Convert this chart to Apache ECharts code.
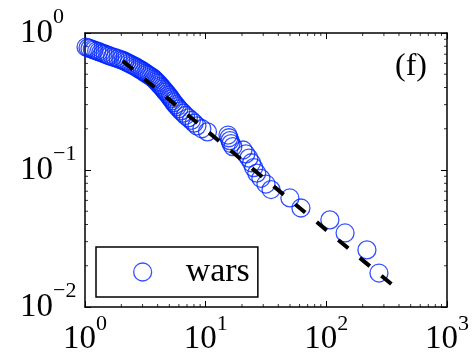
<!DOCTYPE html>
<html>
<head>
<meta charset="utf-8">
<script src="https://cdn.jsdelivr.net/npm/echarts@6/dist/echarts.min.js"></script>
<style>
html, body { margin: 0; padding: 0; background: #fff; }
#chart { width: 476px; height: 362px; }
</style>
</head>
<body>
<div id="chart"></div>
<script>
// wars: size vs. fraction
const warsX = [1.02, 1.06, 1.10, 1.15, 1.19, 1.25, 1.30, 1.35, 1.41, 1.47, 1.54, 1.60, 1.69, 1.78, 1.88, 1.98,
  2.07, 2.14, 2.22, 2.31, 2.40, 2.49, 2.59, 2.68, 2.78, 2.88, 2.98, 3.08, 3.18, 3.28, 3.40, 3.52, 3.65,
  3.75, 3.84, 3.94, 4.04, 4.14, 4.24, 4.35, 4.45, 4.56, 4.68, 4.81, 4.93, 5.06, 5.18, 5.31, 5.43, 5.61,
  5.80, 6.00, 6.24, 6.52, 6.80, 7.19, 7.61, 8.03, 8.47, 9.30, 10.35,
  15.3, 15.6, 15.9, 16.2, 16.8,
  20.4, 21.5, 22.8, 24.0, 25.0, 26.5, 28.7, 31.6, 34.8,
  49.9, 61.6, 107, 143, 217, 273]
const warsY = [0.790, 0.780, 0.770, 0.760, 0.750, 0.740, 0.730, 0.720, 0.710, 0.700, 0.690, 0.680, 0.670, 0.660, 0.650, 0.640,
  0.630, 0.620, 0.610, 0.600, 0.590, 0.580, 0.570, 0.560, 0.550, 0.540, 0.530, 0.520, 0.510, 0.500, 0.490, 0.480, 0.470,
  0.460, 0.450, 0.440, 0.430, 0.420, 0.410, 0.400, 0.390, 0.380, 0.370, 0.360, 0.350, 0.340, 0.330, 0.320, 0.310, 0.300,
  0.290, 0.280, 0.270, 0.260, 0.250, 0.240, 0.230, 0.220, 0.210, 0.200, 0.190,
  0.180, 0.172, 0.164, 0.156, 0.148,
  0.140, 0.131, 0.122, 0.113, 0.104, 0.095, 0.087, 0.079, 0.072,
  0.0625, 0.0528, 0.0432, 0.0347, 0.0261, 0.0177]

// dashed power-law fit, two end points
const fitX = [2.06, 370]
const fitY = [0.624, 0.014]

// minor tick positions (MATLAB style box ticks)
const minorX = [2, 3, 4, 5, 6, 7, 8, 9, 20, 30, 40, 50, 60, 70, 80, 90, 200, 300, 400, 500, 600, 700, 800, 900]
const minorY = [0.02, 0.03, 0.04, 0.05, 0.06, 0.07, 0.08, 0.09, 0.2, 0.3, 0.4, 0.5, 0.6, 0.7, 0.8, 0.9]

const seriesName = 'wars'
const panelLabel = '(f)'

const serif = "'Liberation Serif', 'Times New Roman', serif"
const blue = '#0026ff'

function powLabel(value) {
  const e = Math.round(Math.log10(value))
  return '{b|10}{s|' + (e < 0 ? '\u2212' + (-e) : e) + '}'
}

const labelRich = {
  b: { fontSize: 33, fontFamily: serif, color: '#000', lineHeight: 33 },
  s: { fontSize: 22, fontFamily: serif, color: '#000', lineHeight: 22, padding: [0, 0, 31, 0] },
}

function logAxis(min, max, extra) {
  return Object.assign({
    type: 'log',
    logBase: 10,
    min: min,
    max: max,
    splitLine: { show: false },
    axisLine: { show: true, onZero: false, lineStyle: { color: '#000', width: 1.5 } },
    axisTick: { show: true, inside: true, length: 6, lineStyle: { color: '#000', width: 1 } },
  }, extra)
}

function tickSeries(data, size, offset) {
  return {
    type: 'scatter',
    data: data,
    symbol: 'rect',
    symbolSize: size,
    symbolOffset: offset,
    clip: false,
    silent: true,
    itemStyle: { color: '#000' },
    z: 1,
  }
}

const chart = echarts.init(document.getElementById('chart'))

chart.setOption({
  animation: false,
  backgroundColor: '#fff',
  grid: { left: 85, right: 29, top: 33, bottom: 55, containLabel: false, outerBoundsMode: 'none' },
  xAxis: [
    logAxis(1, 1000, {
      position: 'bottom',
      axisLabel: { formatter: powLabel, rich: labelRich, margin: 16 },
    }),
    logAxis(1, 1000, { position: 'top', axisLabel: { show: false } }),
  ],
  yAxis: [
    logAxis(0.01, 1, {
      position: 'left',
      axisLabel: { formatter: powLabel, rich: labelRich, margin: 65, align: 'left' },
    }),
    logAxis(0.01, 1, { position: 'right', axisLabel: { show: false } }),
  ],
  legend: {
    data: [seriesName],
    left: 96,
    top: 247,
    orient: 'horizontal',
    icon: 'circle',
    padding: [8, 8, 8, 37],
    itemWidth: 76,
    itemHeight: 18,
    backgroundColor: '#fff',
    borderColor: '#000',
    borderWidth: 1.5,
    borderRadius: 0,
    textStyle: { fontFamily: serif, fontSize: 34, color: '#000', lineHeight: 34 },
    itemStyle: { color: 'rgba(0,0,0,0)', borderColor: blue, borderWidth: 1.3 },
  },
  graphic: [
    {
      type: 'text',
      left: 395,
      top: 51,
      style: { text: panelLabel, font: '32px ' + serif, fill: '#000' },
    },
  ],
  series: [
    {
      name: seriesName,
      type: 'scatter',
      data: warsX.map((x, i) => [x, warsY[i]]),
      symbol: 'circle',
      symbolSize: 18,
      itemStyle: { color: 'rgba(0,0,0,0)', borderColor: blue, borderWidth: 1.3 },
      z: 3,
    },
    {
      name: 'fit',
      type: 'line',
      data: fitX.map((x, i) => [x, fitY[i]]),
      showSymbol: false,
      symbol: 'none',
      silent: true,
      lineStyle: { color: '#000', width: 4, type: [13, 15], cap: 'butt' },
      z: 4,
    },
    tickSeries(minorX.map((v) => [v, 0.01]), [1, 3], [0, -1.5]),
    tickSeries(minorX.map((v) => [v, 1]), [1, 3], [0, 1.5]),
    tickSeries(minorY.map((v) => [1, v]), [3, 1], [1.5, 0]),
    tickSeries(minorY.map((v) => [1000, v]), [3, 1], [-1.5, 0]),
  ],
})
</script>
</body>
</html>
